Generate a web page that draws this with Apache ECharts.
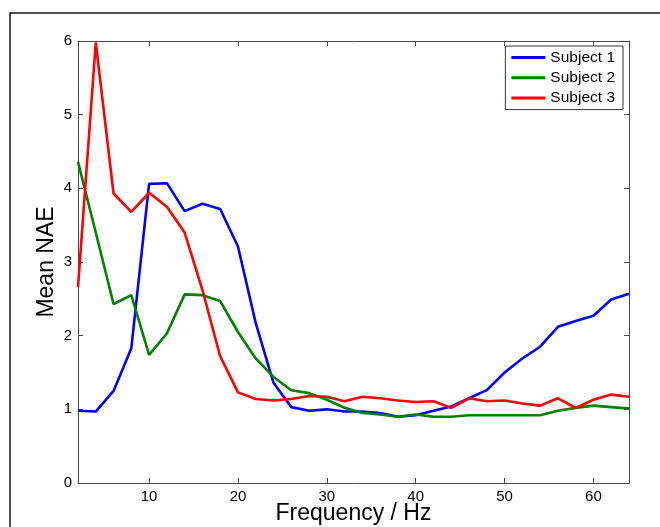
<!DOCTYPE html>
<html>
<head>
<meta charset="utf-8">
<title>Mean NAE vs Frequency</title>
<script src="https://cdn.jsdelivr.net/npm/echarts@6/dist/echarts.min.js"></script>
<style>
  html, body { margin: 0; padding: 0; background: #fff; }
  #chart { width: 660px; height: 527px; }
</style>
</head>
<body>
<div id="chart"></div>
<script>
// Frequency bins (Hz)
var frequencies = [2, 4, 6, 8, 10, 12, 14, 16, 18, 20, 22, 24, 26, 28, 30, 32,
                   34, 36, 38, 40, 42, 44, 46, 48, 50, 52, 54, 56, 58, 60, 62, 64];

// Mean NAE per subject
var subject1 = [0.98, 0.97, 1.25, 1.83, 4.06, 4.07, 3.69, 3.79, 3.72, 3.21, 2.17, 1.36, 1.03, 0.98, 1.00, 0.97,
                0.97, 0.95, 0.90, 0.92, 0.98, 1.04, 1.15, 1.26, 1.50, 1.69, 1.85, 2.12, 2.20, 2.27, 2.49, 2.57];
var subject2 = [4.36, 3.40, 2.43, 2.55, 1.74, 2.03, 2.56, 2.55, 2.47, 2.05, 1.69, 1.44, 1.26, 1.22, 1.13, 1.02,
                0.95, 0.93, 0.90, 0.93, 0.90, 0.90, 0.92, 0.92, 0.92, 0.92, 0.92, 0.98, 1.02, 1.05, 1.03, 1.01];
var subject3 = [2.66, 5.98, 3.93, 3.68, 3.94, 3.75, 3.40, 2.62, 1.72, 1.23, 1.14, 1.12, 1.14, 1.18, 1.17, 1.11,
                1.17, 1.15, 1.12, 1.10, 1.11, 1.02, 1.15, 1.11, 1.12, 1.08, 1.05, 1.15, 1.02, 1.13, 1.20, 1.17];

var seriesNames = ['Subject 1', 'Subject 2', 'Subject 3'];
var xTickValues = [10, 20, 30, 40, 50, 60];

function pairs(values) {
  return frequencies.map(function (f, i) { return [f, values[i]]; });
}

var FONT = '"Liberation Sans", Arial, Helvetica, sans-serif';
var AXIS_COLOR = '#4a4a4a';

var chart = echarts.init(document.getElementById('chart'), null, { renderer: 'canvas' });

function xAxisBase(position, showLabels) {
  return {
    type: 'value',
    position: position,
    min: 2,
    max: 64,
    name: showLabels ? 'Frequency / Hz' : '',
    nameLocation: 'middle',
    nameGap: 19,
    nameMoveOverlap: false,
    nameTextStyle: { fontFamily: FONT, fontSize: 23, color: '#000' },
    axisLine: { show: true, onZero: false, lineStyle: { color: AXIS_COLOR, width: 1 } },
    axisTick: { show: true, inside: true, length: 5, customValues: xTickValues,
                lineStyle: { color: AXIS_COLOR, width: 1 } },
    axisLabel: { show: showLabels, customValues: xTickValues, fontFamily: FONT, fontSize: 15,
                 color: '#000', margin: 6 },
    splitLine: { show: false }
  };
}

function yAxisBase(position, showLabels) {
  return {
    type: 'value',
    position: position,
    min: 0,
    max: 6,
    interval: 1,
    name: showLabels ? 'Mean NAE' : '',
    nameLocation: 'middle',
    nameGap: 20,
    nameMoveOverlap: false,
    nameTextStyle: { fontFamily: FONT, fontSize: 23, color: '#000' },
    axisLine: { show: true, onZero: false, lineStyle: { color: AXIS_COLOR, width: 1 } },
    axisTick: { show: true, inside: true, length: 5, lineStyle: { color: AXIS_COLOR, width: 1 } },
    axisLabel: { show: showLabels, fontFamily: FONT, fontSize: 15, color: '#000', margin: 6 },
    splitLine: { show: false }
  };
}

var colors = ['#0000ff', '#008000', '#ff0000'];
var dataSets = [subject1, subject2, subject3];

chart.setOption({
  animation: false,
  backgroundColor: '#fff',
  color: colors,
  grid: { left: 78, right: 31, top: 41, bottom: 44, containLabel: false, outerBoundsMode: 'none' },
  xAxis: [xAxisBase('bottom', true), xAxisBase('top', false)],
  yAxis: [yAxisBase('left', true), yAxisBase('right', false)],
  legend: {
    orient: 'vertical',
    right: 37,
    top: 46,
    data: seriesNames,
    icon: 'rect',
    itemWidth: 34,
    itemHeight: 3,
    itemGap: 3.3,
    padding: [3, 8, 3, 6],
    borderColor: '#333',
    borderWidth: 1,
    backgroundColor: '#fff',
    textStyle: { fontFamily: FONT, fontSize: 15.5, color: '#000', lineHeight: 17 }
  },
  graphic: [{
    type: 'rect',
    shape: { x: 10, y: 13, width: 700, height: 600 },
    style: { fill: 'none', stroke: '#1a1a1a', lineWidth: 1.5 },
    silent: true,
    z: -1
  }],
  series: seriesNames.map(function (name, i) {
    return {
      name: name,
      type: 'line',
      data: pairs(dataSets[i]),
      showSymbol: false,
      symbol: 'none',
      lineStyle: { width: 2.6, color: colors[i] },
      itemStyle: { color: colors[i] }
    };
  })
});
</script>
</body>
</html>
